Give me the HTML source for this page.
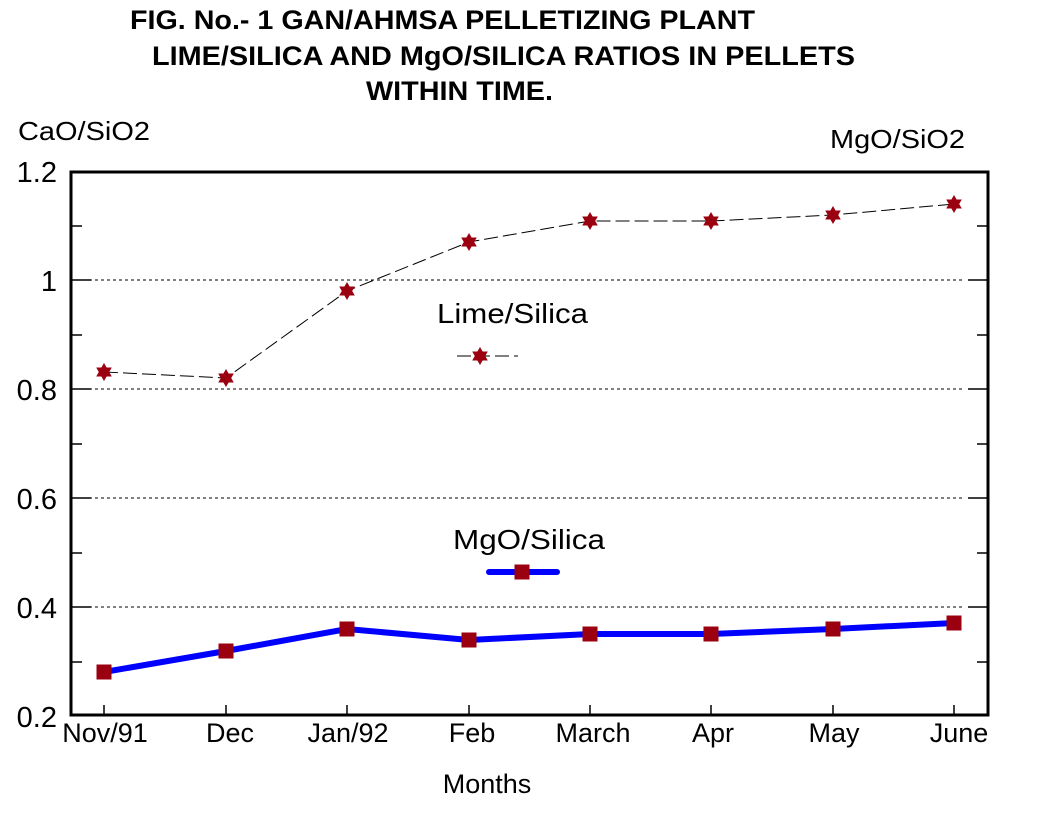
<!DOCTYPE html>
<html><head><style>body{margin:0;background:#fff}svg{display:block}text{font-family:"Liberation Sans",Arial,sans-serif}</style></head>
<body>
<svg width="1055" height="815" viewBox="0 0 1055 815" xmlns="http://www.w3.org/2000/svg">
<defs>
<g id="star"><polygon points="0,-9 2.6,-4.5 7.8,-4.5 5.2,0 7.8,4.5 2.6,4.5 0,9 -2.6,4.5 -7.8,4.5 -5.2,0 -7.8,-4.5 -2.6,-4.5" fill="#9b0010"/></g>
<rect id="sq" x="-7.5" y="-7.5" width="15" height="15" fill="#9b0010"/>
</defs>
<g font-weight="bold" font-size="27" fill="#000">
<text x="130" y="29" textLength="625" lengthAdjust="spacingAndGlyphs">FIG. No.- 1 GAN/AHMSA PELLETIZING PLANT</text>
<text x="152" y="65" textLength="703" lengthAdjust="spacingAndGlyphs">LIME/SILICA AND MgO/SILICA RATIOS IN PELLETS</text>
<text x="366" y="100" textLength="187" lengthAdjust="spacingAndGlyphs">WITHIN TIME.</text>
</g>
<text x="18" y="140" font-size="26" textLength="132" lengthAdjust="spacingAndGlyphs">CaO/SiO2</text>
<text x="830" y="148" font-size="26" textLength="135" lengthAdjust="spacingAndGlyphs">MgO/SiO2</text>
<g stroke="#000" stroke-width="1" stroke-dasharray="3,3">
<line x1="71" y1="280" x2="965" y2="280"/><line x1="71" y1="389" x2="965" y2="389"/>
<line x1="71" y1="498" x2="965" y2="498"/><line x1="71" y1="607" x2="965" y2="607"/>
</g>
<g stroke="#000" stroke-width="1.5">
<line x1="71" y1="280" x2="91" y2="280"/><line x1="71" y1="389" x2="91" y2="389"/><line x1="71" y1="498" x2="91" y2="498"/><line x1="71" y1="607" x2="91" y2="607"/>
<line x1="71" y1="226" x2="82" y2="226"/><line x1="71" y1="335" x2="82" y2="335"/><line x1="71" y1="444" x2="82" y2="444"/><line x1="71" y1="553" x2="82" y2="553"/><line x1="71" y1="662" x2="82" y2="662"/>
<line x1="968" y1="280" x2="988" y2="280"/><line x1="968" y1="389" x2="988" y2="389"/><line x1="968" y1="498" x2="988" y2="498"/><line x1="968" y1="607" x2="988" y2="607"/>
<line x1="977" y1="226" x2="988" y2="226"/><line x1="977" y1="335" x2="988" y2="335"/><line x1="977" y1="444" x2="988" y2="444"/><line x1="977" y1="553" x2="988" y2="553"/><line x1="977" y1="662" x2="988" y2="662"/>
<line x1="104" y1="715" x2="104" y2="705"/><line x1="226" y1="715" x2="226" y2="705"/><line x1="347" y1="715" x2="347" y2="705"/><line x1="469" y1="715" x2="469" y2="705"/><line x1="590" y1="715" x2="590" y2="705"/><line x1="711" y1="715" x2="711" y2="705"/><line x1="833" y1="715" x2="833" y2="705"/><line x1="954" y1="715" x2="954" y2="705"/>
</g>
<rect x="71" y="172" width="917" height="543" fill="none" stroke="#000" stroke-width="3"/>
<g font-size="29" text-anchor="end">
<text x="57" y="182">1.2</text><text x="57" y="291">1</text><text x="57" y="400">0.8</text><text x="57" y="509">0.6</text><text x="57" y="618">0.4</text><text x="57" y="727">0.2</text>
</g>
<g font-size="27" text-anchor="middle">
<text x="105" y="742">Nov/91</text><text x="230" y="742">Dec</text><text x="348" y="742">Jan/92</text><text x="472" y="742">Feb</text><text x="593" y="742">March</text><text x="713" y="742">Apr</text><text x="834" y="742">May</text><text x="959" y="742">June</text>
<text x="487" y="793">Months</text>
</g>
<polyline points="104,372 226,378 347,291 469,242 590,221 711,221 833,215 954,204" fill="none" stroke="#000" stroke-width="1" stroke-dasharray="14,5"/>
<g><use href="#star" x="104" y="372"/><use href="#star" x="226" y="378"/><use href="#star" x="347" y="291"/><use href="#star" x="469" y="242"/><use href="#star" x="590" y="221"/><use href="#star" x="711" y="221"/><use href="#star" x="833" y="215"/><use href="#star" x="954" y="204"/></g>
<polyline points="104,672 226,651 347,629 469,640 590,634 711,634 833,629 954,623" fill="none" stroke="#0000ff" stroke-width="6"/>
<g><use href="#sq" x="104" y="672"/><use href="#sq" x="226" y="651"/><use href="#sq" x="347" y="629"/><use href="#sq" x="469" y="640"/><use href="#sq" x="590" y="634"/><use href="#sq" x="711" y="634"/><use href="#sq" x="833" y="629"/><use href="#sq" x="954" y="623"/></g>
<text x="437" y="323" font-size="28" textLength="151" lengthAdjust="spacingAndGlyphs">Lime/Silica</text>
<line x1="457" y1="356" x2="518" y2="356" stroke="#000" stroke-width="1" stroke-dasharray="14,5"/>
<use href="#star" x="480" y="356"/>
<text x="453" y="549" font-size="28" textLength="152" lengthAdjust="spacingAndGlyphs">MgO/Silica</text>
<line x1="489" y1="572" x2="557" y2="572" stroke="#0000ff" stroke-width="6" stroke-linecap="round"/>
<use href="#sq" x="522" y="572"/>
</svg>
</body></html>
